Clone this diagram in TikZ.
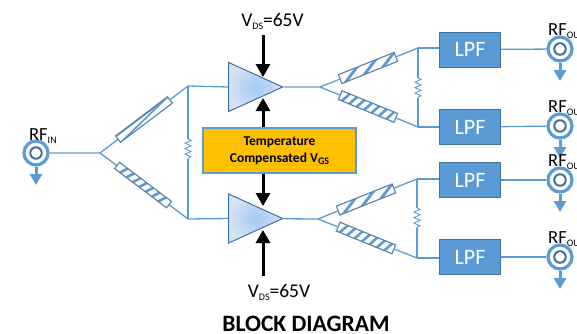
\documentclass[tikz,border=0pt]{standalone}
\usepackage{fontspec}
\setmainfont{Carlito}
\usetikzlibrary{arrows.meta, shapes.geometric, decorations.pathmorphing}
\definecolor{rfblue}{HTML}{5B9BD5}
\definecolor{rfedge}{HTML}{41719C}
\definecolor{ampcore}{HTML}{A3C8F5}
\definecolor{ampouter}{HTML}{D6E3F4}
\definecolor{vgsgold}{HTML}{FFC000}
\newcommand{\subtxt}[3]{#1\lower#3\hbox{\fontsize{10}{10}\selectfont #2}}

\begin{document}
\begin{tikzpicture}[
      x=1pt, y=-1pt,
      rfline/.style={draw=rfblue, line width=1.3pt},
      block/.style={draw=rfedge, line width=1pt, fill=rfblue, text=white, minimum width=61pt,
                    minimum height=35pt, inner sep=0pt, font=\fontsize{22}{22}\selectfont},
      port/.style={circle, draw=rfblue, line width=3.2pt, fill=white, minimum size=24pt, inner sep=0pt},
      portcore/.style={circle, draw=rfedge, line width=2pt, fill=white, minimum size=11.5pt, inner sep=0pt},
      portarrow/.style={draw=rfblue, line width=3pt, -{Triangle[length=11pt,width=12pt]}},
      biasarrow/.style={draw=black, line width=3pt, -{Triangle[length=13pt,width=14pt]}},
      amp/.style={isosceles triangle, isosceles triangle stretches, shape border rotate=0, draw=rfedge,
                  line width=1pt, inner color=ampcore, outer color=ampouter, minimum width=49pt,
                  minimum height=54pt, inner sep=0pt, anchor=apex},
      stub/.style={draw=rfedge!85, line width=1.2pt, fill=white, minimum width=60pt, minimum height=9.5pt,
                   inner sep=0pt},
      stubbars/.style={stub, path picture={
          \foreach \sx in {-24,-16,...,24}
            \draw[rfblue, line width=2.6pt] (\sx-3,6) -- (\sx+3,-6);}},
      stubslant/.style={stub, path picture={
          \foreach \sx in {-18,2,22}
            \draw[rfblue, line width=2.8pt] (\sx-10,6) -- (\sx+10,-6);}},
      stublong/.style={stub, minimum width=65pt, minimum height=8pt, path picture={
          \draw[rfedge!85, line width=1.6pt] (-32,-3.5) -- (32,-3.5);
          \draw[rfblue, line width=1.6pt] (-30,4) -- (34,-4);}},
      res/.style={rfline, line width=0.9pt, decorate,
                  decoration={zigzag, amplitude=3pt, segment length=5.5pt}},
      lbl/.style={anchor=base west, inner sep=0pt, font=\fontsize{18.5}{18.5}\selectfont},
      vds/.style={anchor=base, inner sep=0pt, font=\fontsize{19.5}{19.5}\selectfont},
    ]
    \useasboundingbox (0,0) rectangle (577,333);
    \clip (0,0) rectangle (577,333);

    \coordinate (j0) at (100,153);
    \coordinate (a1) at (188,86);
    \coordinate (a2) at (188,219);
    \coordinate (j1) at (320,87);
    \coordinate (t1) at (418,48);
    \coordinate (t2) at (418,127);
    \coordinate (j2) at (318,219);
    \coordinate (t3) at (417,179);
    \coordinate (t4) at (417,258);

    \node[amp] (amp1) at (284,87) {};
    \node[amp] (amp2) at (284,218.5) {};

    \node[port] (in) at (36,153) {};
    \node[portcore] (inc) at (in) {};
    \node[lbl] (inlab) at (29,140) {\subtxt{RF}{IN}{3pt}};
    \coordinate (inend) at (36,185);

    \node[stublong, rotate=37] (s1) at (144,119.5) {};
    \node[stubbars, minimum width=65pt, minimum height=8pt, rotate=-37] (s2) at (143,185) {};
    \node[stubslant, rotate=21.7] (s3) at (368,68) {};
    \node[stubbars, rotate=-22.2] (s4) at (368,106.5) {};
    \node[stubslant, rotate=21.7] (s5) at (366,199.5) {};
    \node[stubbars, rotate=-22.2] (s6) at (366,238) {};

    \draw[rfline] (in) -- (j0) -- (s1) (s1) -- (a1) (j0) -- (s2) (s2) -- (a2);
    \draw[rfline] (a1) -- (amp1.west) (a2) -- (amp2.west);
    \draw[rfline] (amp1) -- (j1) -- (s3) (s3) -- (t1) (j1) -- (s4) (s4) -- (t2);
    \draw[rfline] (amp2) -- (j2) -- (s5) (s5) -- (t3) (j2) -- (s6) (s6) -- (t4);

    \coordinate (r1a) at (188,139);
    \coordinate (r1b) at (188,159);
    \coordinate (r2a) at (418,78);
    \coordinate (r2b) at (418,98);
    \coordinate (r3a) at (417,208);
    \coordinate (r3b) at (417,228);
    \draw[rfline] (a1) -- (r1a) (r1b) -- (a2);
    \draw[res] (r1a) -- (r1b);
    \draw[rfline] (t1) -- (r2a) (r2b) -- (t2);
    \draw[res] (r2a) -- (r2b);
    \draw[rfline] (t3) -- (r3a) (r3b) -- (t4);
    \draw[res] (r3a) -- (r3b);

    \node[block] (lpf1) at (470,49.5) {LPF};
    \node[block] (lpf2) at (470,127) {LPF};
    \node[block] (lpf3) at (470,180) {LPF};
    \node[block] (lpf4) at (470,257) {LPF};
    \draw[rfline] (t1) -- (lpf1.west |- t1);
    \draw[rfline] (t2) -- (lpf2.west |- t2);
    \draw[rfline] (t3) -- (lpf3.west |- t3);
    \draw[rfline] (t4) -- (lpf4.west |- t4);

    \node[port] (out1) at (560,49) {};
    \node[port] (out2) at (560,126) {};
    \node[port] (out3) at (560,180) {};
    \node[port] (out4) at (560,257) {};
    \node[portcore] (outc1) at (out1) {};
    \node[portcore] (outc2) at (out2) {};
    \node[portcore] (outc3) at (out3) {};
    \node[portcore] (outc4) at (out4) {};
    \draw[rfline] (lpf1) -- (out1);
    \draw[rfline] (lpf2) -- (out2);
    \draw[rfline] (lpf3) -- (out3);
    \draw[rfline] (lpf4) -- (out4);

    \coordinate (end1) at (560,81);
    \coordinate (end2) at (560,158);
    \coordinate (end3) at (560,212);
    \coordinate (end4) at (560,289);
    \draw[portarrow] (in) -- (inend);
    \draw[portarrow] (out1) -- (end1);
    \draw[portarrow] (out2) -- (end2);
    \draw[portarrow] (out3) -- (end3);
    \draw[portarrow] (out4) -- (end4);
    \node[lbl] (outlab1) at (548,35) {\subtxt{RF}{OUT}{3pt}};
    \node[lbl] (outlab2) at (548,112) {\subtxt{RF}{OUT}{3pt}};
    \node[lbl] (outlab3) at (548,166) {\subtxt{RF}{OUT}{3pt}};
    \node[lbl] (outlab4) at (548,243) {\subtxt{RF}{OUT}{3pt}};

    \node[draw=rfblue, line width=1.4pt, fill=vgsgold, minimum width=153pt, minimum height=45pt,
          inner sep=0pt, align=center, font=\fontsize{13.5}{16.5}\selectfont\bfseries] (vgs) at (279.5,150.5)
      {Temperature\\Compensated \subtxt{V}{GS}{2pt}};

    \coordinate (top) at (263,35);
    \coordinate (topend) at (263,77);
    \coordinate (vgsup) at (263,98);
    \coordinate (vgsdn) at (263,206);
    \coordinate (botend) at (263,230);
    \coordinate (bot) at (263,276);
    \draw[biasarrow] (top) -- (topend);
    \draw[biasarrow] (vgs.north -| vgsup) -- (vgsup);
    \draw[biasarrow] (vgs.south -| vgsdn) -- (vgsdn);
    \draw[biasarrow] (bot) -- (botend);

    \node[vds] (vds1) at (272.5,26) {\subtxt{V}{DS}{3pt}=65V};
    \node[vds] (vds2) at (279,297) {\subtxt{V}{DS}{3pt}=65V};
    \node[inner sep=0pt, anchor=base, font=\fontsize{23.5}{23.5}\selectfont\bfseries] (title) at (306,331) {BLOCK DIAGRAM};
  \end{tikzpicture}
\end{document}
